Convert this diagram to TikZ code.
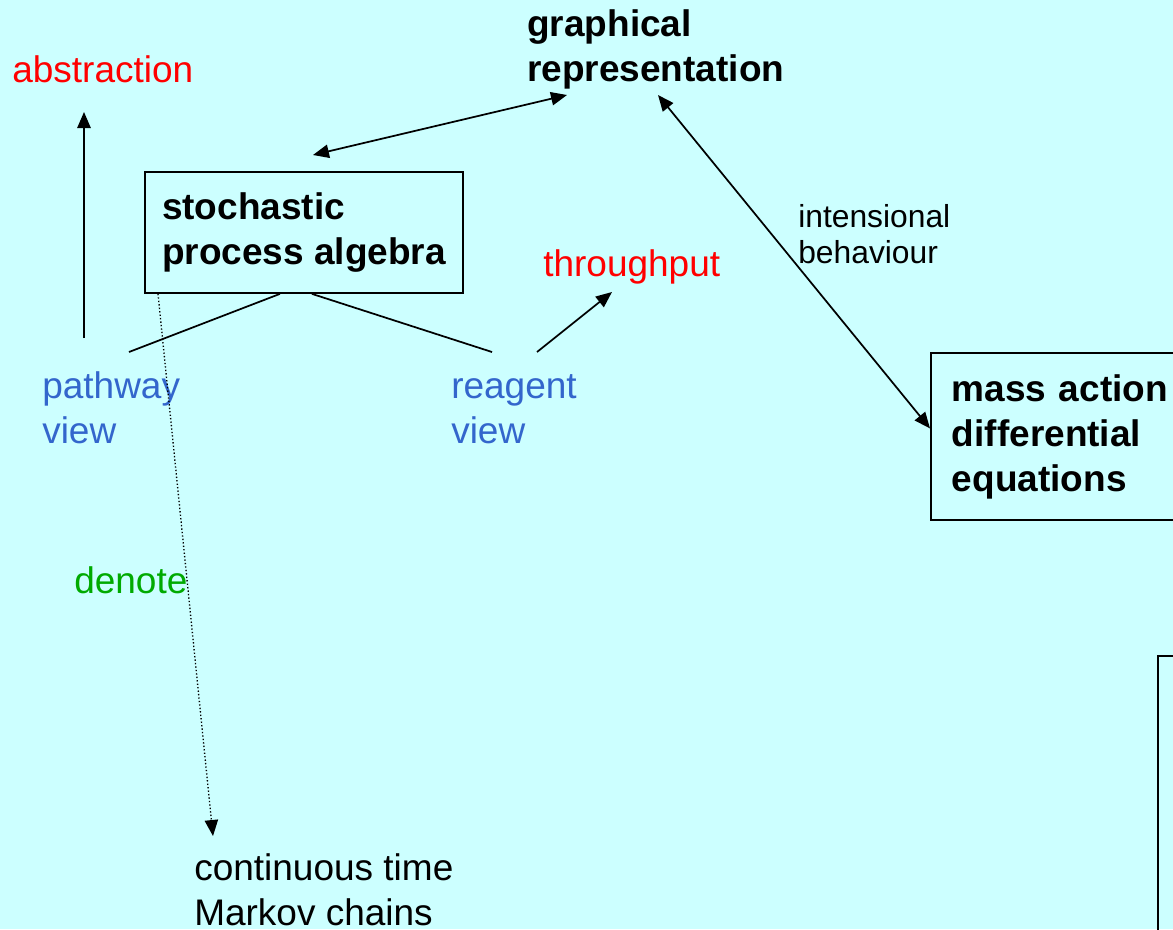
\documentclass[tikz,border=0pt]{standalone}
\usepackage{fontspec}
\setmainfont{Liberation Sans}
\usepackage{tikz}
\usetikzlibrary{positioning,arrows.meta,calc}
\usepackage{xcolor}
\definecolor{bgcyan}{RGB}{204,255,255}
\definecolor{hotred}{RGB}{255,0,0}
\definecolor{viewblue}{RGB}{51,102,204}
\definecolor{semgreen}{RGB}{0,170,0}
\newcommand\mainsize{\fontsize{27.75pt}{33.75pt}\selectfont}
\newcommand\notesize{\fontsize{23.85pt}{27pt}\selectfont}

\begin{document}
\begin{tikzpicture}[
    x=0.75pt, y=-0.75pt,
    term/.style={inner sep=0pt, anchor=base west, align=left, font=\mainsize},
    heading/.style={term, font=\mainsize\bfseries},
    note/.style={term, font=\notesize},
    box/.style={rectangle, draw=black, line width=1.4pt, anchor=north west, align=left, font=\mainsize\bfseries},
    arrow/.style={-{Triangle[length=12pt,width=10pt]}, line width=1.3pt},
    twoway/.style={{Triangle[length=12pt,width=10pt]}-{Triangle[length=12pt,width=10pt]}, line width=1.3pt},
    link/.style={line width=1.3pt},
    denotes/.style={-{Triangle[length=12pt,width=10pt]}, line width=1pt, dash pattern=on 1pt off 1.6pt}
]

% Background and frame
\fill[bgcyan] (0,0) rectangle (1173,929);
\useasboundingbox (0,0) rectangle (1173,929);
\clip (0,0) rectangle (1173,929);

% Models (base of a multi-line node = its last line)
\node[box, minimum width=238.5pt, minimum height=90.75pt] (spa) at (144,171) {stochastic\\process algebra};
\node[box, text width=200pt, inner xsep=15.75pt, minimum height=125.25pt] (mass) at (930,352) {mass action\\differential\\equations};
\node[box, minimum width=150pt, minimum height=250pt] (corner) at (1157,655) {};
\node[heading] (graphical) at (527,81) {graphical\\representation};
\node[term] (ctmc) at (194,925) {continuous time\\Markov chains};

% Labels
\node[term, text=hotred] (abstraction) at (12,82) {abstraction};
\node[term, text=hotred] (throughput) at (543,276) {throughput};
\node[term, text=viewblue] (pathway) at (42,443) {pathway\\view};
\node[term, text=viewblue] (reagent) at (451,443) {reagent\\view};
\node[term, text=semgreen] (denote) at (74,593) {denote};
\node[note] (intens) at (798,263) {intensional\\behaviour};

% Connectors
\draw[arrow] ([shift={(42,-105)}]pathway.base west) -- ([shift={(72,30)}]abstraction.base west);
\draw[twoway] ([shift={(9,-16)}]spa.north) -- ([shift={(40,14)}]graphical.base west);
\draw[twoway] ([shift={(131,14)}]graphical.base west) -- ([shift={(0,-8)}]mass.west);
\draw[link] ([shift={(-24,0)}]spa.south) -- ([shift={(87,-91)}]pathway.base west);
\draw[link] ([shift={(8,0)}]spa.south) -- ([shift={(41,-91)}]reagent.base west);
\draw[arrow] ([shift={(86,-91)}]reagent.base west) -- ([shift={(69,16)}]throughput.base west);
\draw[denotes] ([shift={(14,0)}]spa.south west) -- ([shift={(19,-89)}]ctmc.base west);
\end{tikzpicture}
\end{document}
